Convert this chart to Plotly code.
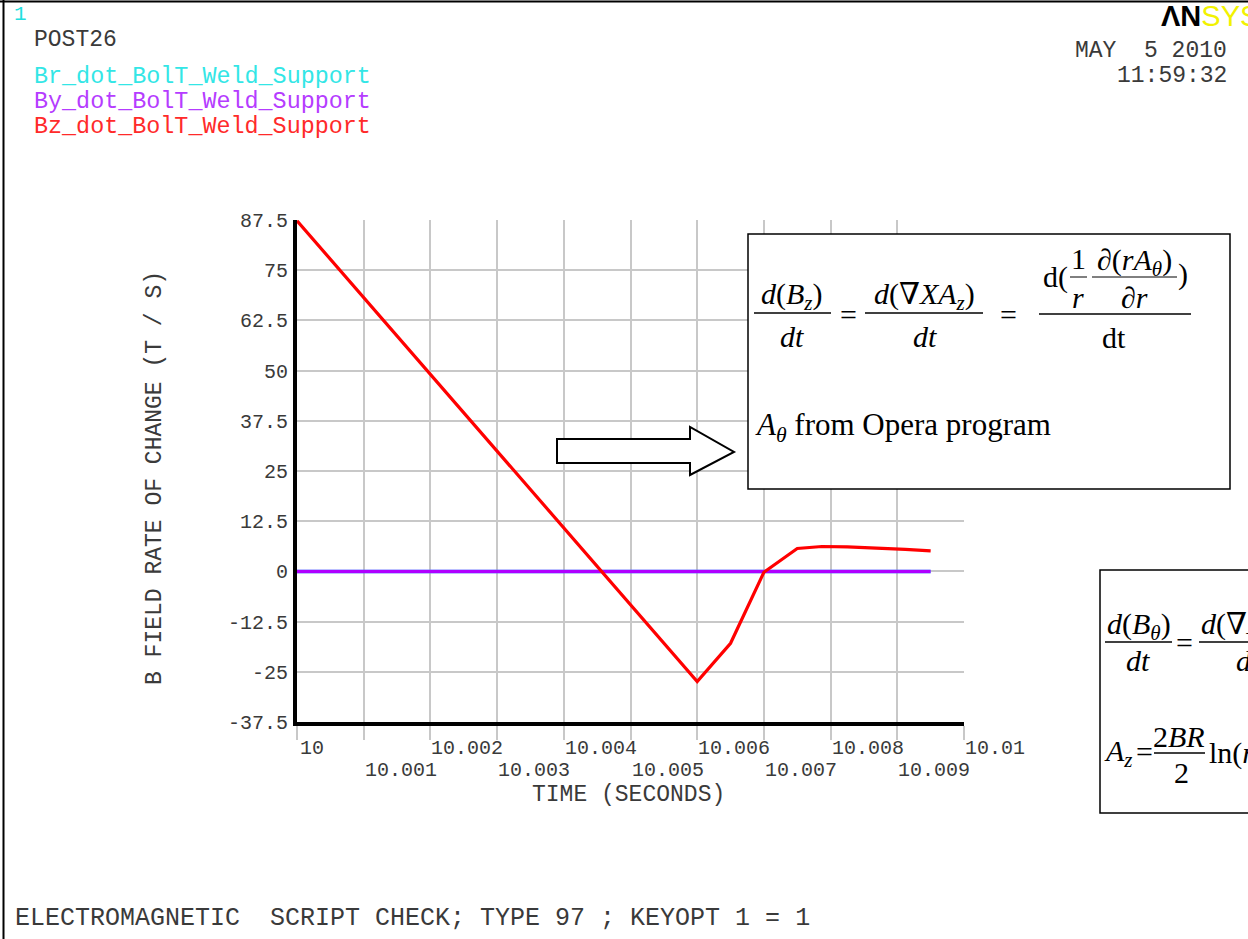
import plotly.graph_objects as go

# ---------------- data ----------------
time_bz = [10.0, 10.006, 10.0065, 10.007, 10.0075, 10.00787, 10.00825, 10.00875, 10.00912, 10.0095]
bz_dot = [87.3, -27.4, -17.9, -0.2, 5.7, 6.2, 6.1, 5.8, 5.5, 5.1]
time_br = [10.0, 10.0095]
br_dot = [0.0, 0.0]
time_by = [10.0, 10.0095]
by_dot = [0.0, 0.0]

y_tick_vals = [87.5, 75, 62.5, 50, 37.5, 25, 12.5, 0, -12.5, -25, -37.5]
y_tick_text = ["87.5", "75", "62.5", "50", "37.5", "25", "12.5", "0", "-12.5", "-25", "-37.5"]
x_tick_vals = [10.0, 10.001, 10.002, 10.003, 10.004, 10.005, 10.006, 10.007, 10.008, 10.009, 10.01]
x_tick_text = ["10", "10.001", "10.002", "10.003", "10.004", "10.005", "10.006", "10.007", "10.008", "10.009", "10.01"]

series_names = ["Br_dot_BolT_Weld_Support", "By_dot_BolT_Weld_Support", "Bz_dot_BolT_Weld_Support"]
series_colors = ["#00ffff", "#b000ff", "#ff0000"]
legend_text_colors = ["#33e6e6", "#b53cff", "#ff2a2a"]

# ---------------- helpers ----------------
W, H = 1248, 939
MONO = "Courier New, Nimbus Mono PS, FreeMono, Liberation Mono, monospace"
SERIF = "Liberation Serif, DejaVu Serif, Times New Roman, serif"
GREY = "#3a3a3a"


def X(p):
    return p / W


def Y(p):
    return 1 - p / H


annotations = []
shapes = []


def txt(text, x, y, size, family=MONO, color=GREY, xanchor="left", yanchor="middle", angle=0):
    annotations.append(dict(
        text=text, x=X(x), y=Y(y), xref="paper", yref="paper",
        xanchor=xanchor, yanchor=yanchor, showarrow=False, textangle=angle,
        font=dict(size=size, family=family, color=color), borderpad=0,
    ))


def hline(x0, x1, y, width=1.5, color="black"):
    shapes.append(dict(type="line", xref="paper", yref="paper",
                       x0=X(x0), x1=X(x1), y0=Y(y), y1=Y(y),
                       line=dict(color=color, width=width)))


def rect(x0, y0, x1, y1, width=1.5):
    shapes.append(dict(type="rect", xref="paper", yref="paper",
                       x0=X(x0), x1=X(x1), y0=Y(y1), y1=Y(y0),
                       line=dict(color="black", width=width), fillcolor="white", layer="above"))


# ---------------- figure ----------------
fig = go.Figure()
fig.add_trace(go.Scatter(x=time_br, y=br_dot, mode="lines", name=series_names[0],
                         line=dict(color=series_colors[0], width=3.5)))
fig.add_trace(go.Scatter(x=time_by, y=by_dot, mode="lines", name=series_names[1],
                         line=dict(color=series_colors[1], width=3.5)))
fig.add_trace(go.Scatter(x=time_bz, y=bz_dot, mode="lines", name=series_names[2],
                         line=dict(color=series_colors[2], width=3.2)))

# x tick labels, staggered in two rows, left aligned on their ticks
for i, (v, t) in enumerate(zip(x_tick_vals, x_tick_text)):
    annotations.append(dict(
        text=t, x=v, y=Y(748 if i % 2 == 0 else 770), xref="x", yref="paper",
        xanchor="left", yanchor="middle", showarrow=False, xshift=2 if i == 0 else 0,
        font=dict(size=20, family=MONO, color=GREY), borderpad=0,
    ))

# axis titles
txt("TIME (SECONDS)", 628, 795, 23, xanchor="center")
txt("B FIELD RATE OF CHANGE (T / S)", 155, 478, 23, xanchor="center", angle=-90)

# header texts
txt("1", 13, 15, 21, color="#22dede")
txt("POST26", 33, 40, 23)
for i, (n, c) in enumerate(zip(series_names, legend_text_colors)):
    txt(n, 33, 77 + 25 * i, 23.4, color=c)
txt("MAY  5 2010", 1228, 51, 23, xanchor="right")
txt("11:59:32", 1228, 76, 23, xanchor="right")
txt("<b>ΛN</b><span style='color:#f2f200'>SYS</span>", 1160, 16, 29,
    family="Liberation Sans, Arial, sans-serif", color="black")

# footer
txt("ELECTROMAGNETIC  SCRIPT CHECK; TYPE 97 ; KEYOPT 1 = 1", 14, 918, 25)

# frame lines at top and left
hline(0, W, 1.5, width=2)
shapes.append(dict(type="line", xref="paper", yref="paper", x0=X(3.5), x1=X(3.5),
                   y0=0, y1=1, line=dict(color="black", width=2)))

# arrow
ax = [557, 690, 690, 734, 690, 690, 557]
ay = [439, 439, 427, 452, 475, 463, 463]
path = "M " + " L ".join(f"{X(a)},{Y(b)}" for a, b in zip(ax, ay)) + " Z"
shapes.append(dict(type="path", xref="paper", yref="paper", path=path,
                   line=dict(color="black", width=2), fillcolor="white", layer="above"))

# equation box 1
rect(748, 234, 1230, 489)
S = 30
txt("<i>d</i>(<i>B</i><sub><i>z</i></sub>)", 792, 296, S, family=SERIF, color="black", xanchor="center")
hline(754, 831, 313)
txt("<i>dt</i>", 792, 336, S, family=SERIF, color="black", xanchor="center")
txt("=", 848, 314, S, family=SERIF, color="black", xanchor="center")
txt("<i>d</i>(∇<i>XA</i><sub><i>z</i></sub>)", 924, 296, S, family=SERIF, color="black", xanchor="center")
hline(865, 983, 313)
txt("<i>dt</i>", 925, 336, S, family=SERIF, color="black", xanchor="center")
txt("=", 1008, 314, S, family=SERIF, color="black", xanchor="center")
txt("d(", 1055, 277, S, family=SERIF, color="black", xanchor="center")
txt("1", 1078, 258, S, family=SERIF, color="black", xanchor="center")
hline(1070, 1087, 277, width=1)
txt("<i>r</i>", 1078, 297, S, family=SERIF, color="black", xanchor="center")
txt("∂(<i>rA</i><sub><i>θ</i></sub>)", 1134, 262, S, family=SERIF, color="black", xanchor="center")
hline(1092, 1177, 277, width=1)
txt("∂<i>r</i>", 1134, 297, S, family=SERIF, color="black", xanchor="center")
txt(")", 1183, 274, S, family=SERIF, color="black", xanchor="center")
hline(1039, 1191, 314)
txt("dt", 1114, 337, S, family=SERIF, color="black", xanchor="center")
txt("<i>A</i><sub><i>θ</i></sub> from Opera program", 754, 427, 31, family=SERIF, color="black")

# equation box 2 (partly off the page)
rect(1100, 570, 1400, 813)
txt("<i>d</i>(<i>B</i><sub><i>θ</i></sub>)", 1139, 626, S, family=SERIF, color="black", xanchor="center")
hline(1105, 1172, 642)
txt("<i>dt</i>", 1138, 660, S, family=SERIF, color="black", xanchor="center")
txt("=", 1184, 642, S, family=SERIF, color="black", xanchor="center")
txt("<i>d</i>(∇<i>XA</i><sub><i>θ</i></sub>)", 1200, 626, S, family=SERIF, color="black")
hline(1199, 1330, 642)
txt("<i>dt</i>", 1235, 660, S, family=SERIF, color="black")
txt("<i>A</i><sub><i>z</i></sub>", 1103, 753, S, family=SERIF, color="black")
txt("=", 1144, 751, S, family=SERIF, color="black", xanchor="center")
txt("2<i>BR</i>", 1179, 736, S, family=SERIF, color="black", xanchor="center")
hline(1154, 1205, 753)
txt("2", 1181, 772, S, family=SERIF, color="black", xanchor="center")
txt("ln(<i>r</i>)", 1208, 753, S, family=SERIF, color="black")

fig.update_layout(
    width=W, height=H, autosize=False,
    margin=dict(l=0, r=0, t=0, b=0, pad=0, autoexpand=False),
    paper_bgcolor="white", plot_bgcolor="white",
    showlegend=False,
    annotations=annotations, shapes=shapes,
    xaxis=dict(
        domain=[X(297), X(964)], range=[10.0, 10.01], automargin=False,
        tickvals=x_tick_vals, showticklabels=False,
        ticks="outside", ticklen=14, tickcolor="#c8c8c8", tickwidth=1.5,
        showgrid=True, gridcolor="#c8c8c8", gridwidth=1.5,
        showline=True, linecolor="black", linewidth=4, zeroline=False,
    ),
    yaxis=dict(
        domain=[Y(722), Y(220)], range=[-37.5, 87.5], automargin=False,
        tickvals=y_tick_vals, ticktext=y_tick_text,
        tickfont=dict(size=20, family=MONO, color=GREY),
        ticks="", ticklabelstandoff=1,
        showgrid=True, gridcolor="#c8c8c8", gridwidth=1.5,
        showline=True, linecolor="black", linewidth=4, zeroline=False,
    ),
)

fig.write_html(
    "out.html",
    config={"displayModeBar": False, "responsive": False},
    post_script="document.body.style.margin='0';document.body.style.padding='0';"
                "document.body.style.overflow='hidden';",
)
